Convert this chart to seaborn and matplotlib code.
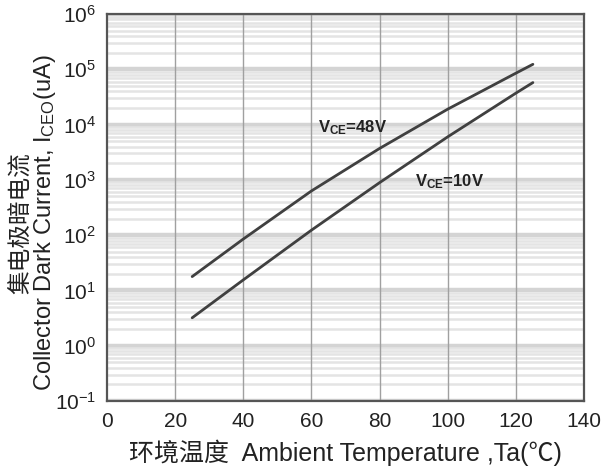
import numpy as np
import pandas as pd
import matplotlib
matplotlib.use("Agg")
import matplotlib.pyplot as plt
import seaborn as sns
from matplotlib.ticker import LogLocator, FixedLocator

# ---- data ----
temp = [25, 40, 60, 80, 100, 120, 125]
i_48v = [17.8, 85, 630, 3700, 19000, 85000, 123000]
i_10v = [3.2, 15.5, 123, 890, 6000, 37000, 57500]
series_names = ["VCE=48V", "VCE=10V"]
x_ticks = [0, 20, 40, 60, 80, 100, 120, 140]

df = pd.DataFrame({
    "temp": temp * 2,
    "current": i_48v + i_10v,
    "series": [series_names[0]] * len(temp) + [series_names[1]] * len(temp),
})

sns.set_theme(style="white")
plt.rcParams['font.family'] = ['Liberation Sans', 'Noto Sans CJK SC', 'DejaVu Sans']
plt.rcParams['mathtext.fontset'] = 'custom'
plt.rcParams['mathtext.rm'] = 'Liberation Sans'
plt.rcParams['mathtext.bf'] = 'Liberation Sans:bold'
plt.rcParams['mathtext.it'] = 'Liberation Sans:italic'

fig = plt.figure(figsize=(6.11, 4.70), dpi=100)
ax = fig.add_axes([107/611, 1-401/470, (584-107)/611, (401-14)/470])

sns.lineplot(data=df, x="temp", y="current", hue="series",
             palette=["#404040", "#404040"], linewidth=2.0, legend=False, ax=ax,
             zorder=3)

ax.set_yscale("log")
ax.set_xlim(0, 140)
ax.set_ylim(1e-1, 1e6)
ax.xaxis.set_major_locator(FixedLocator(x_ticks))
ax.yaxis.set_major_locator(LogLocator(base=10, numticks=10))
ax.yaxis.set_minor_locator(LogLocator(base=10, subs=np.arange(2, 10), numticks=20))

ax.grid(True, which="minor", axis="y", color="#e4e4e4", linewidth=1.8)
ax.grid(True, which="major", axis="y", color="#d4d4d4", linewidth=3.2)
ax.grid(False, axis="x")
ax.set_axisbelow(True)
for xv in x_ticks[1:-1]:
    ax.axvline(xv, color="#a0a0a0", linewidth=1.0, zorder=1.5)

for s in ax.spines.values():
    s.set_color("#555555")
    s.set_linewidth(1.6)

ax.tick_params(axis="both", which="both", length=0, labelsize=15, colors="#222222")
ax.tick_params(axis="x", pad=8)
ax.tick_params(axis="y", pad=8)

ax.set_xlabel("环境温度  Ambient Temperature ,Ta(℃)", fontsize=18, color="#222222", labelpad=6)
ax.set_ylabel("集电极暗电流\nCollector Dark Current, I$_{\\mathregular{CEO}}$(uA)",
              fontsize=17, color="#222222", multialignment="center",
              linespacing=0.95)
ax.yaxis.set_label_coords(-0.102, 0.46)

ax.text(62, 10**3.94, r"V$_{\mathbf{CE}}$=48V", fontsize=12, fontweight="bold", color="#222222",
        ha="left", va="center", zorder=4)
ax.text(90.5, 10**2.96, r"V$_{\mathbf{CE}}$=10V", fontsize=12, fontweight="bold", color="#222222",
        ha="left", va="center", zorder=4)

fig.savefig("out.png", dpi=100, facecolor="white")
